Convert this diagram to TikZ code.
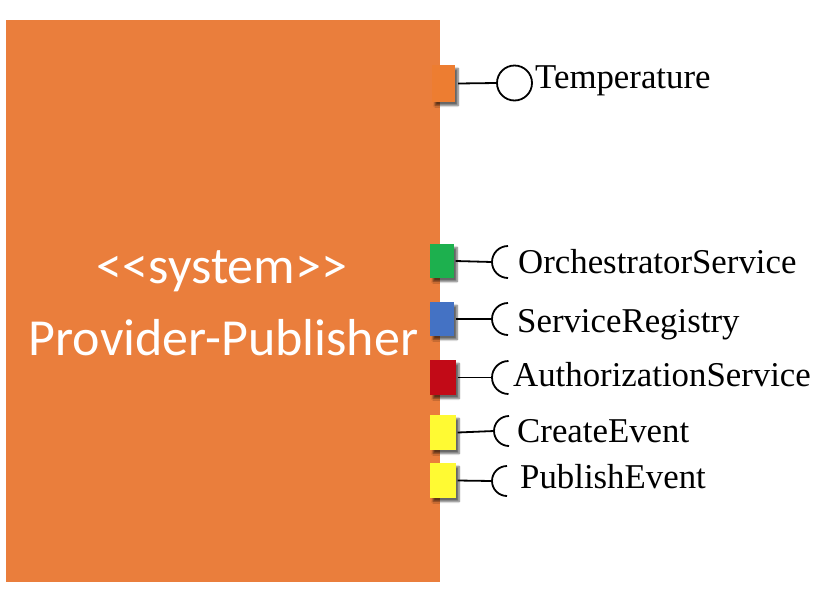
\documentclass[tikz,border=0pt]{standalone}
\usepackage{fontspec}
\setmainfont{Liberation Serif}
\newfontfamily\sysfont{Carlito}
\usetikzlibrary{shadows.blur}
\definecolor{sysorange}{HTML}{EA7E3C}
\definecolor{portorange}{HTML}{ED7D31}
\definecolor{portgreen}{HTML}{1DB04E}
\definecolor{portblue}{HTML}{4472C4}
\definecolor{portred}{HTML}{C20A17}
\definecolor{portyellow}{HTML}{FFFA33}
\tikzset{
  portbox/.style={rectangle, inner sep=0pt, draw=none, minimum width=25pt, minimum height=35pt,
    blur shadow={shadow xshift=3pt, shadow yshift=-3.5pt, shadow blur steps=6, shadow opacity=60}},
  lbl/.style={anchor=base west, inner sep=0pt, font=\fontsize{34.8}{40}\selectfont},
  systxt/.style={anchor=base, inner sep=0pt, text=white, font=\sysfont\fontsize{52}{60}\selectfont},
  conn/.style={line width=1.8pt, black},
  ball/.style={circle, draw, line width=1.8pt, minimum size=35pt, inner sep=0pt},
}
\begin{document}
\begin{tikzpicture}[x=1pt,y=-1pt]
\useasboundingbox (0,0) rectangle (820,598);
\node[rectangle, fill=sysorange, inner sep=0pt, minimum width=434pt, minimum height=562pt] (sys) at (223,301) {};
\node[systxt] (st) at (222,283) {<{}<system>{}>};
\node[systxt] (pp) at (223.5,355) {Provider-Publisher};
% ports
\node[portbox, fill=portorange, minimum width=23pt, minimum height=37pt] (p1) at (443.5,83.5) {};
\node[portbox, fill=portgreen, minimum width=24pt, minimum height=34pt] (p2) at (442,261) {};
\node[portbox, fill=portblue, minimum width=24pt, minimum height=34pt] (p3) at (442,319) {};
\node[portbox, fill=portred, minimum width=26pt] (p4) at (443,377.5) {};
\node[portbox, fill=portyellow, minimum width=26pt] (p5) at (443,432.5) {};
\node[portbox, fill=portyellow, minimum width=26pt] (p6) at (443,480.5) {};
% provided interface
\node[ball] (b1) at (514.5,83) {};
\draw[conn] (p1.east) ++(3,0) -- (b1.west);
% sockets
\coordinate (s2) at (492,262);
\coordinate (s3) at (492,319);
\coordinate (s4) at (492,377.5);
\coordinate (s5) at (494,431);
\coordinate (s6) at (492,481);
\foreach \p/\s/\r in {p2/s2/16, p3/s3/16, p4/s4/16.5, p5/s5/15, p6/s6/15}{
  \draw[conn] (\p.east) ++(1.5,0) -- (\s);
  \draw[conn] (\s) ++(\r pt,\r pt) arc[start angle=90, end angle=270, radius=\r pt];
}
% labels
\node[lbl] (t1) at (535,88) {Temperature};
\node[lbl] (t2) at (518,273) {OrchestratorService};
\node[lbl] (t3) at (517,332) {ServiceRegistry};
\node[lbl] (t4) at (513,386) {AuthorizationService};
\node[lbl] (t5) at (517,442) {CreateEvent};
\node[lbl] (t6) at (520,488) {PublishEvent};
\end{tikzpicture}
\end{document}
